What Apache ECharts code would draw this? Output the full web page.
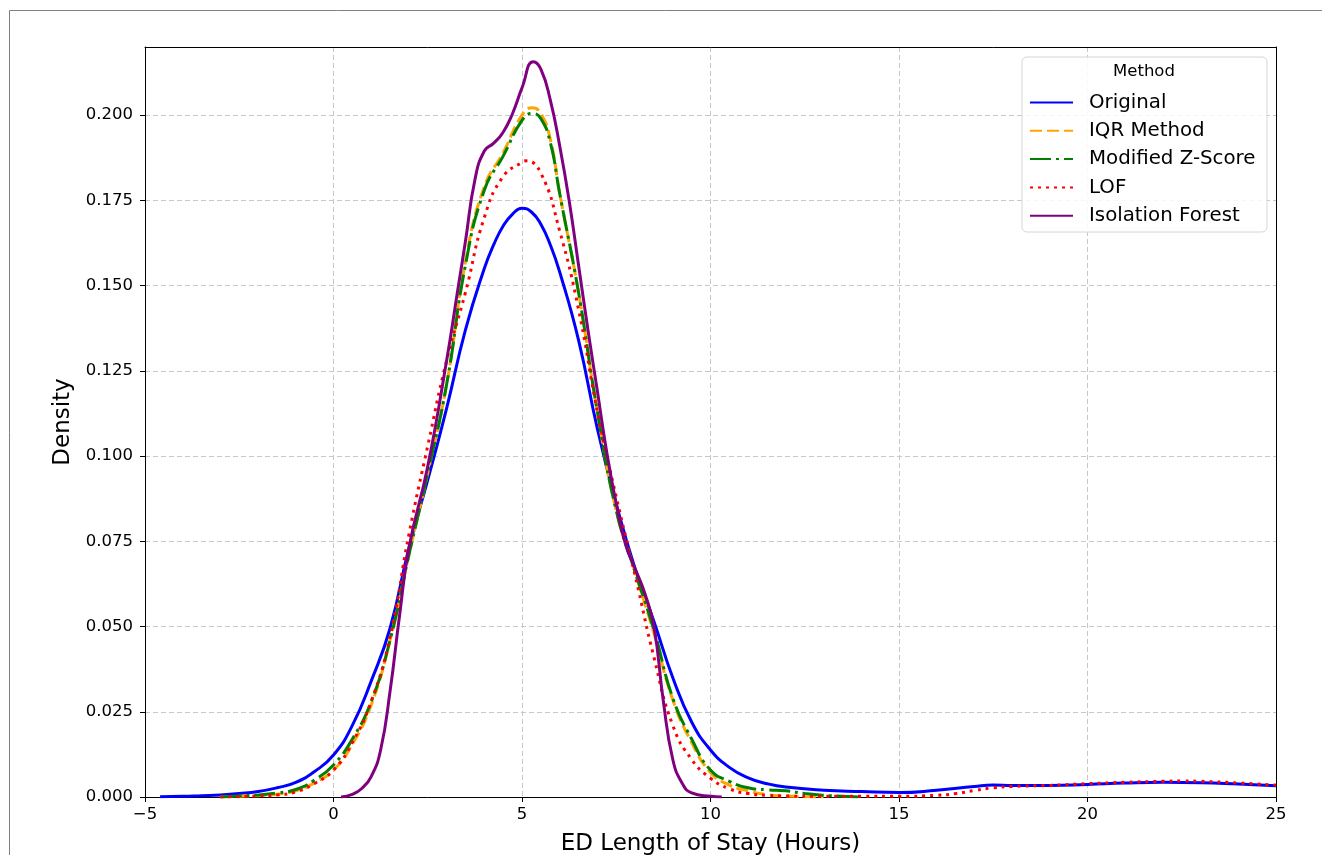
<!DOCTYPE html>
<html><head><meta charset="utf-8">
<script src="https://cdn.jsdelivr.net/npm/echarts@6/dist/echarts.min.js"></script>
<style>html,body{margin:0;padding:0;background:#fff}#c{width:1322px;height:855px}</style>
</head><body><div id="c"></div>
<script>
// ---- data ----
const methods = ['Original', 'IQR Method', 'Modified Z-Score', 'LOF', 'Isolation Forest'];
const xTicks = [-5, 0, 5, 10, 15, 20, 25];
const yTicks = [0, 0.025, 0.05, 0.075, 0.1, 0.125, 0.15, 0.175, 0.2];

const origX = [-4.6,-4,-3.5,-3,-2.5,-2,-1.5,-1,-0.5,0,0.5,1,1.5,2,2.5,3,3.5,4,4.25,4.5,4.75,5,5.25,5.5,5.75,6,6.5,7,7.5,8,8.5,9,9.5,10,10.5,11,11.5,12,13,14,15,16,17,17.5,18,19,20,21,22,23,24,25];
const origY = [0.0001,0.0002,0.0004,0.0006,0.001,0.0016,0.0027,0.0043,0.0075,0.0123,0.021,0.034,0.0495,0.073,0.093,0.114,0.137,0.155,0.162,0.1675,0.171,0.1727,0.1716,0.168,0.162,0.154,0.134,0.108,0.086,0.067,0.0515,0.035,0.022,0.0138,0.0087,0.0056,0.0039,0.0029,0.002,0.0016,0.0013,0.002,0.0031,0.0035,0.0034,0.0034,0.0037,0.0041,0.0043,0.0042,0.0038,0.0033];

const iqrX = [-3,-2.5,-2,-1.5,-1,-0.5,0,0.5,1,1.5,2,2.5,3,3.5,4,4.5,5,5.27,5.5,5.75,6,6.5,7,7.5,8,8.5,9,9.5,10,10.5,11,11.5,12,12.5,13];
const iqrY = [0,0.0002,0.0004,0.0008,0.0018,0.0042,0.0079,0.0155,0.027,0.046,0.071,0.095,0.121,0.157,0.179,0.189,0.2,0.2022,0.2005,0.193,0.177,0.148,0.113,0.084,0.066,0.048,0.0285,0.016,0.0072,0.0035,0.0018,0.0007,0.0003,0.0001,0];

const mzX = [-3,-2.5,-2,-1.5,-1,-0.5,0,0.5,1,1.5,2,2.5,3,3.5,4,4.5,5,5.27,5.5,5.75,6,6.5,7,7.5,8,8.5,9,9.5,10,10.5,11,11.5,12,12.5,13,13.5,14];
const mzY = [0,0.0003,0.0006,0.0012,0.0022,0.005,0.0094,0.017,0.028,0.046,0.071,0.095,0.121,0.156,0.178,0.188,0.1985,0.2005,0.199,0.192,0.177,0.148,0.113,0.084,0.066,0.049,0.029,0.017,0.0079,0.0046,0.0027,0.0021,0.0018,0.001,0.0005,0.0002,0];

const lofX = [-3,-2.5,-2,-1.5,-1,-0.5,0,0.5,1,1.5,2,2.5,3,3.5,4,4.5,5,5.1,5.5,6,6.5,7,7.5,8,8.5,9,9.5,10,10.5,11,11.5,12,13,14,15,16,16.5,17,17.5,18,19,20,21,22,22.5,23,24,25];
const lofY = [0,0.0001,0.0003,0.0006,0.0015,0.004,0.0079,0.016,0.028,0.047,0.077,0.103,0.128,0.148,0.17,0.182,0.1862,0.1866,0.183,0.166,0.143,0.113,0.088,0.065,0.041,0.021,0.011,0.0055,0.0024,0.001,0.0005,0.0003,0.0002,0.0002,0.0002,0.0005,0.001,0.0019,0.0027,0.0031,0.0034,0.0039,0.0043,0.0046,0.0047,0.0046,0.0041,0.0035];

const isoX = [0.2,0.5,0.75,1,1.25,1.5,1.75,2,2.5,3,3.3,3.5,3.75,4,4.25,4.5,4.75,5,5.3,5.5,5.75,6,6.25,6.5,6.75,7,7.25,7.5,7.75,8,8.25,8.5,8.75,9,9.25,9.5,10,10.3];
const isoY = [0,0.0008,0.0025,0.006,0.0138,0.031,0.053,0.073,0.097,0.128,0.149,0.163,0.181,0.1895,0.1918,0.195,0.2005,0.208,0.2157,0.2135,0.2045,0.191,0.175,0.156,0.137,0.119,0.101,0.086,0.074,0.067,0.06,0.05,0.028,0.011,0.004,0.0012,0.0002,0];

// ---- styles ----
const FONT = 'DejaVu Sans';
const colors = ['#0000ff', '#ffa500', '#008000', '#ff0000', '#800080'];
const dashes = ['solid', [12, 5], [21, 5, 3, 5], [3, 5], 'solid'];
const seriesXY = [[origX, origY], [iqrX, iqrY], [mzX, mzY], [lofX, lofY], [isoX, isoY]];

function zip(xs, ys) { return xs.map((x, i) => [x, ys[i]]); }

const chart = echarts.init(document.getElementById('c'), null, { renderer: 'canvas' });

const gridLine = { show: true, lineStyle: { color: '#c8c8c8', width: 1, type: [5, 3] } };
const tickStyle = { show: true, inside: false, length: 5, lineStyle: { color: '#000', width: 1 } };
const labelFont = { fontFamily: FONT, fontSize: 16.5, color: '#000' };

const option = {
  animation: false,
  backgroundColor: '#fff',
  grid: { left: 145, right: 46, top: 47, bottom: 58, containLabel: false, outerBoundsMode: 'none' },
  xAxis: [{
    type: 'value', min: xTicks[0], max: xTicks[xTicks.length - 1], interval: 5,
    name: 'ED Length of Stay (Hours)', nameLocation: 'middle', nameGap: 36,
    nameTextStyle: { fontFamily: FONT, fontSize: 23, color: '#000' },
    axisLine: { show: true, onZero: false, lineStyle: { color: '#000', width: 1 } },
    axisTick: tickStyle,
    axisLabel: Object.assign({ margin: 9, formatter: v => (v < 0 ? '\u2212' + Math.abs(v) : String(v)) }, labelFont),
    splitLine: gridLine
  }, {
    type: 'value', position: 'top', min: xTicks[0], max: xTicks[xTicks.length - 1], z: 10,
    axisLine: { show: true, onZero: false, lineStyle: { color: '#000', width: 1 } },
    axisTick: { show: false }, axisLabel: { show: false }, splitLine: { show: false }
  }],
  yAxis: [{
    type: 'value', min: 0, max: 0.22, interval: 0.025,
    name: 'Density', nameLocation: 'middle', nameGap: 59, nameRotate: 90,
    nameTextStyle: { fontFamily: FONT, fontSize: 23, color: '#000' },
    axisLine: { show: true, onZero: false, lineStyle: { color: '#000', width: 1 } },
    axisTick: tickStyle,
    axisLabel: Object.assign({
      margin: 12, showMaxLabel: false,
      formatter: v => {
        const hit = yTicks.some(t => Math.abs(t - v) < 1e-9);
        return hit ? v.toFixed(3) : '';
      }
    }, labelFont),
    splitLine: gridLine
  }, {
    type: 'value', position: 'right', min: 0, max: 0.22, z: 10,
    axisLine: { show: true, onZero: false, lineStyle: { color: '#000', width: 1 } },
    axisTick: { show: false }, axisLabel: { show: false }, splitLine: { show: false }
  }],
  legend: {
    orient: 'vertical', left: 1029, top: 92.5, padding: 0,
    itemWidth: 43, itemHeight: 14, itemGap: 8.3,
    itemStyle: { opacity: 0, borderWidth: 0 },
    textStyle: { fontFamily: FONT, fontSize: 19.8, color: '#000', padding: [0, 0, 0, 11] },
    data: methods
  },
  graphic: [
    { type: 'line', shape: { x1: 9.5, y1: 10.5, x2: 1322, y2: 10.5 }, style: { stroke: '#808080', lineWidth: 1 }, z: 1 },
    { type: 'line', shape: { x1: 9.5, y1: 10.5, x2: 9.5, y2: 855 }, style: { stroke: '#808080', lineWidth: 1 }, z: 1 },
    { type: 'rect', shape: { x: 1022, y: 57, width: 245, height: 175, r: 5 },
      style: { fill: 'rgba(255,255,255,0.85)', stroke: '#d6d6d6', lineWidth: 1 }, z: 3 },
    { type: 'text', x: 1144, y: 72,
      style: { text: 'Method', font: '16.5px "DejaVu Sans"', fill: '#000', textAlign: 'center', textVerticalAlign: 'middle' }, z: 5 }
  ],
  series: methods.map((name, i) => ({
    name: name, type: 'line', xAxisIndex: 0, yAxisIndex: 0,
    data: zip(seriesXY[i][0], seriesXY[i][1]),
    smooth: 0.5, symbol: 'none', showSymbol: false,
    lineStyle: { color: colors[i], width: 3, type: dashes[i], cap: 'butt' },
    itemStyle: { color: colors[i] },
    emphasis: { disabled: true }
  }))
};
chart.setOption(option);
</script></body></html>
